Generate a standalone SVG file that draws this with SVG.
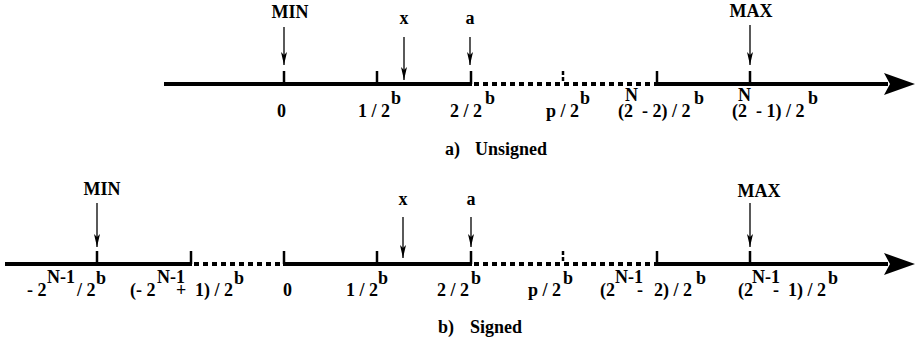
<svg xmlns="http://www.w3.org/2000/svg" width="918" height="345" viewBox="0 0 918 345">
<style>
text{font-family:"Liberation Serif","Times New Roman",serif;font-weight:bold;font-size:18px;fill:#000}
.mid{text-anchor:middle}
.axis{stroke:#000;stroke-width:4;fill:none}
.dash{stroke:#000;stroke-width:4;fill:none;stroke-dasharray:5 4}
.tick{stroke:#000;stroke-width:2.5;fill:none}
.dtick{stroke:#000;stroke-width:2.5;fill:none;stroke-dasharray:4 2}
.ptr{stroke:#000;stroke-width:1.3;fill:none;marker-end:url(#ah)}
</style>
<defs>
<marker id="ah" markerWidth="8" markerHeight="14" refX="3.5" refY="13" orient="0" markerUnits="userSpaceOnUse" viewBox="0 0 8 14">
<path d="M0.5,0 L3.5,13 L6.5,0 L3.5,3 Z" fill="#000"/>
</marker>
<path id="bighead" d="M0,-11 L31,0 L0,11 L6,0 Z" fill="#000"/>
</defs>

<g id="unsigned">
<g id="u-axis">
<line class="axis" x1="164" y1="84" x2="472" y2="84"/>
<line class="dash" x1="474" y1="84" x2="656" y2="84"/>
<line class="axis" x1="656" y1="84" x2="888" y2="84"/>
<use href="#bighead" x="884" y="84"/>
<line class="tick" x1="284" y1="71" x2="284" y2="84"/>
<line class="tick" x1="377" y1="71" x2="377" y2="84"/>
<line class="tick" x1="471" y1="71" x2="471" y2="84"/>
<line class="dtick" x1="563" y1="71" x2="563" y2="82"/>
<line class="tick" x1="657" y1="71" x2="657" y2="84"/>
<line class="tick" x1="750" y1="71" x2="750" y2="84"/>
</g>
<g id="u-pointers">
<line class="ptr" x1="284" y1="27" x2="284" y2="65"/>
<line class="ptr" x1="404" y1="37" x2="404" y2="80"/>
<line class="ptr" x1="470" y1="37" x2="470" y2="65"/>
<line class="ptr" x1="750" y1="25" x2="750" y2="65"/>
</g>
<g id="u-labels">
<text class="mid" x="290" y="18">MIN</text>
<text class="mid" x="404" y="24">x</text>
<text class="mid" x="470" y="24">a</text>
<text class="mid" x="751" y="17">MAX</text>
<text x="277" y="117">0</text>
<text><tspan x="358" y="117">1 / 2</tspan><tspan x="391" y="104">b</tspan></text>
<text><tspan x="450" y="117">2 / 2</tspan><tspan x="485" y="104">b</tspan></text>
<text><tspan x="546" y="117">p / 2</tspan><tspan x="580" y="104">b</tspan></text>
<text><tspan x="618" y="117">(2</tspan><tspan x="625" y="101">N</tspan><tspan x="642" y="117">- 2) / 2</tspan><tspan x="694" y="104">b</tspan></text>
<text><tspan x="732" y="117">(2</tspan><tspan x="738" y="101">N</tspan><tspan x="756" y="117">- 1) / 2</tspan><tspan x="808" y="104">b</tspan></text>
<text><tspan x="445" y="155">a)</tspan><tspan x="475" y="155">Unsigned</tspan></text>
</g>
</g>

<g id="signed">
<g id="s-axis">
<line class="axis" x1="5" y1="264" x2="192" y2="264"/>
<line class="dash" x1="194" y1="264" x2="283" y2="264"/>
<line class="axis" x1="283" y1="264" x2="472" y2="264"/>
<line class="dash" x1="474" y1="264" x2="656" y2="264"/>
<line class="axis" x1="656" y1="264" x2="888" y2="264"/>
<use href="#bighead" x="884" y="264"/>
<line class="tick" x1="97" y1="251" x2="97" y2="264"/>
<line class="tick" x1="191" y1="251" x2="191" y2="264"/>
<line class="tick" x1="284" y1="251" x2="284" y2="264"/>
<line class="tick" x1="377" y1="251" x2="377" y2="264"/>
<line class="tick" x1="471" y1="251" x2="471" y2="264"/>
<line class="dtick" x1="563" y1="251" x2="563" y2="262"/>
<line class="tick" x1="657" y1="251" x2="657" y2="264"/>
<line class="tick" x1="750" y1="251" x2="750" y2="264"/>
</g>
<g id="s-pointers">
<line class="ptr" x1="97" y1="203" x2="97" y2="247"/>
<line class="ptr" x1="403" y1="217" x2="403" y2="258"/>
<line class="ptr" x1="471" y1="217" x2="471" y2="247"/>
<line class="ptr" x1="750" y1="203" x2="750" y2="247"/>
</g>
<g id="s-labels">
<text class="mid" x="102" y="195">MIN</text>
<text class="mid" x="403" y="205">x</text>
<text class="mid" x="471" y="205">a</text>
<text class="mid" x="759" y="197">MAX</text>
<text><tspan x="27" y="296">- 2</tspan><tspan x="47" y="283">N-1</tspan><tspan x="77" y="296">/ 2</tspan><tspan x="96" y="284">b</tspan></text>
<text><tspan x="130" y="296">(- 2</tspan><tspan x="157" y="283">N-1</tspan><tspan x="176" y="296">+</tspan><tspan x="195" y="296">1) / 2</tspan><tspan x="234" y="284">b</tspan></text>
<text x="283" y="296">0</text>
<text><tspan x="346" y="296">1 / 2</tspan><tspan x="378" y="284">b</tspan></text>
<text><tspan x="437" y="296">2 / 2</tspan><tspan x="471" y="284">b</tspan></text>
<text><tspan x="528" y="296">p / 2</tspan><tspan x="563" y="284">b</tspan></text>
<text><tspan x="600" y="296">(2</tspan><tspan x="615" y="283">N-1</tspan><tspan x="637" y="296">-</tspan><tspan x="654" y="296">2) / 2</tspan><tspan x="696" y="284">b</tspan></text>
<text><tspan x="738" y="296">(2</tspan><tspan x="752" y="283">N-1</tspan><tspan x="773" y="296">-</tspan><tspan x="788" y="296">1) / 2</tspan><tspan x="828" y="284">b</tspan></text>
<text><tspan x="438" y="333">b)</tspan><tspan x="470" y="333">Signed</tspan></text>
</g>
</g>
</svg>
